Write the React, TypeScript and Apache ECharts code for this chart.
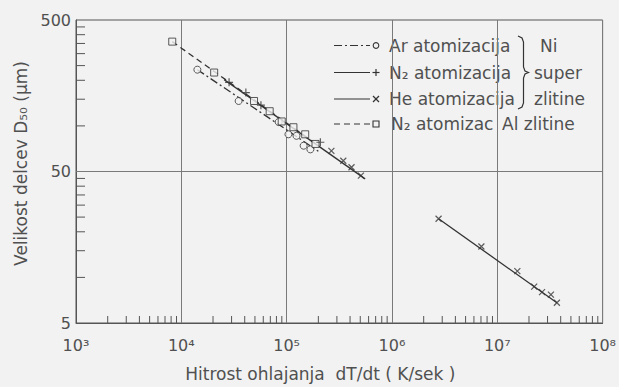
import React, { useEffect, useRef } from "react";
import * as echarts from "echarts";

// ---- data ----
const xTickLabels = ["10³", "10⁴", "10⁵", "10⁶", "10⁷", "10⁸"];
const yTickValues = [5, 50, 500];

// Ar atomizacija (Ni super zlitine) – circles
const arPoints = [
  [1.42e4, 235], [3.5e4, 146], [8.4e4, 106], [1.04e5, 88], [1.24e5, 86], [1.45e5, 74], [1.68e5, 70],
];
const arFit = [[1.42e4, 235], [2.0e5, 68]];

// N2 atomizacija (Ni super zlitine) – plus
const n2Points = [[2.84e4, 194], [4.1e4, 166], [5.7e4, 137], [2.09e5, 78]];
const n2Fit = [[2.55e4, 202], [5.56e5, 44.7]];

// He atomizacija (Ni super zlitine) – cross
const heLeftPoints = [[2.66e5, 68.4], [3.45e5, 58.9], [4.13e5, 53.3], [5.07e5, 47]];
const heRightPoints = [
  [2.77e6, 24.4], [7.06e6, 16], [1.55e7, 11], [2.24e7, 8.7], [2.66e7, 8.0], [3.23e7, 7.7], [3.68e7, 6.8],
];
const heFit = [[2.77e6, 24.4], [3.68e7, 6.8]];

// N2 atomizac. Al zlitine – squares
const alPoints = [
  [8.2e3, 360], [2.05e4, 225], [4.9e4, 146], [6.9e4, 125], [8.98e4, 107], [1.16e5, 98], [1.5e5, 88], [1.88e5, 76],
];
const alFit = [[8.2e3, 360], [1.9e5, 76]];

// axis decoration values
const xMinorTicks: number[] = [];
for (let k = 3; k <= 7; k++) for (let m = 2; m <= 9; m++) xMinorTicks.push(m * Math.pow(10, k));
const yMinorTicks = [10, 15, 20, 25, 30, 35, 40, 45, 100, 150, 200, 250, 300, 350, 400, 450];
const gridY = [50];

const BG = "#f2f2f2";
const INK = "#333";
const TEXT = "#505050";
const GRID = "#7a7a7a";
const FONT = "DejaVu Sans";

const PLUS = "path://M0,5L10,5M5,0L5,10";
const CROSS = "path://M0,0L10,10M10,0L0,10";

function legendGraphics() {
  const els: any[] = [];
  const x1 = 334, x2 = 370, mx = 376, tx = 389;
  const rows = [45.5, 72.5, 99, 124];
  const lineStyle = (dash: number[] | null) => ({ stroke: INK, lineWidth: 1.2, lineDash: dash || undefined });
  const txt = (x: number, y: number, text: string) => ({
    type: "text", x, y,
    style: { text, fill: TEXT, fontSize: 17, fontFamily: FONT, align: "left", verticalAlign: "middle" },
  });
  // row 1 Ar
  els.push({ type: "line", shape: { x1, y1: rows[0], x2, y2: rows[0] }, style: lineStyle([8, 3, 2, 3]) });
  els.push({ type: "circle", shape: { cx: mx, cy: rows[0], r: 2.8 }, style: { fill: "none", stroke: INK, lineWidth: 1.1 } });
  els.push(txt(tx, rows[0], "Ar atomizacija"));
  // row 2 N2
  els.push({ type: "line", shape: { x1, y1: rows[1], x2, y2: rows[1] }, style: lineStyle(null) });
  els.push({ type: "line", shape: { x1: mx - 3.5, y1: rows[1], x2: mx + 3.5, y2: rows[1] }, style: lineStyle(null) });
  els.push({ type: "line", shape: { x1: mx, y1: rows[1] - 3.5, x2: mx, y2: rows[1] + 3.5 }, style: lineStyle(null) });
  els.push(txt(tx, rows[1], "N₂ atomizacija"));
  // row 3 He
  els.push({ type: "line", shape: { x1, y1: rows[2], x2, y2: rows[2] }, style: lineStyle(null) });
  els.push({ type: "line", shape: { x1: mx - 3, y1: rows[2] - 3, x2: mx + 3, y2: rows[2] + 3 }, style: lineStyle(null) });
  els.push({ type: "line", shape: { x1: mx - 3, y1: rows[2] + 3, x2: mx + 3, y2: rows[2] - 3 }, style: lineStyle(null) });
  els.push(txt(tx, rows[2], "He atomizacija"));
  // brace
  els.push({
    type: "polyline",
    shape: { points: [[518, 36], [522, 38], [523.5, 42], [523.5, 67], [525, 71], [528.5, 72.5], [525, 74], [523.5, 78], [523.5, 103], [522, 107], [518, 109]] },
    style: { stroke: INK, lineWidth: 1.2, fill: "none" },
  });
  els.push(txt(540, rows[0], "Ni"));
  els.push(txt(534, rows[1], "super"));
  els.push(txt(534, rows[2], "zlitine"));
  // row 4 Al
  els.push({ type: "line", shape: { x1, y1: rows[3], x2: x2 + 1, y2: rows[3] }, style: lineStyle([6, 4]) });
  els.push({ type: "rect", shape: { x: mx - 3, y: rows[3] - 3, width: 6, height: 6 }, style: { fill: "none", stroke: INK, lineWidth: 1.1 } });
  els.push(txt(tx + 2, rows[3], "N₂ atomizac"));
  els.push(txt(502, rows[3], "Al zlitine"));
  return els;
}

export default function App() {
  const ref = useRef<HTMLDivElement>(null);
  useEffect(() => {
    const chart = echarts.init(ref.current!, null, { renderer: "svg" });
    const lineSeries = (data: number[][], type: any, z = 3) => ({
      type: "line", data, showSymbol: false, symbol: "none", silent: true, z,
      lineStyle: { color: INK, width: 1.3, type },
    });
    const scatter = (data: number[][], symbol: string, size: number, hollow = false) => ({
      type: "scatter", data, symbol, symbolSize: size, silent: true, z: 4,
      itemStyle: hollow
        ? { color: BG, borderColor: INK, borderWidth: 1 }
        : { color: "none", borderColor: INK, borderWidth: 1.2 },
    });
    chart.setOption({
      animation: false,
      backgroundColor: BG,
      textStyle: { fontFamily: FONT, color: TEXT },
      grid: { left: 76, right: 13, top: 20, bottom: 62, show: true, borderColor: "#555", borderWidth: 1, backgroundColor: "transparent" },
      xAxis: {
        type: "log", logBase: 10, min: 1e3, max: 1e8,
        axisLine: { show: true, lineStyle: { color: "#555", width: 1 } },
        axisTick: { show: false },
        splitLine: { show: true, lineStyle: { color: GRID, width: 1 } },
        axisLabel: {
          color: TEXT, fontSize: 16, fontFamily: FONT, margin: 14,
          formatter: (v: number) => xTickLabels[Math.round(Math.log10(v)) - 3] || "",
        },
        name: "Hitrost ohlajanja  dT/dt ( K/sek )",
        nameLocation: "middle", nameGap: 42,
        nameTextStyle: { color: TEXT, fontSize: 17, fontFamily: FONT, padding: [0, 38, 0, 0] },
      },
      yAxis: {
        type: "log", logBase: 10, min: 5, max: 500,
        axisLine: { show: true, lineStyle: { color: "#555", width: 1 } },
        axisTick: { show: false },
        splitLine: { show: false },
        axisLabel: {
          color: TEXT, fontSize: 16, fontFamily: FONT, margin: 5,
          customValues: yTickValues,
          formatter: (v: number) => String(Math.round(v)),
        },
        name: "Velikost delcev D₅₀ (μm)",
        nameLocation: "middle", nameGap: 47,
        nameTextStyle: { color: TEXT, fontSize: 17, fontFamily: FONT, padding: [0, 0, 0, 16] },
      },
      series: [
        {
          type: "custom", silent: true, z: 1, clip: false,
          data: xMinorTicks.map((v) => [v, 5]),
          renderItem: (_p: any, api: any) => {
            const c = api.coord([api.value(0), 5]);
            return { type: "line", shape: { x1: c[0], y1: c[1], x2: c[0], y2: c[1] - 7 }, style: { stroke: "#555", lineWidth: 1 } };
          },
        },
        {
          type: "custom", silent: true, z: 1, clip: false,
          data: yMinorTicks.map((v) => [1e3, v]),
          renderItem: (_p: any, api: any) => {
            const c = api.coord([1e3, api.value(1)]);
            return { type: "line", shape: { x1: c[0], y1: c[1], x2: c[0] + 9, y2: c[1] }, style: { stroke: "#555", lineWidth: 1 } };
          },
        },
        {
          type: "custom", silent: true, z: 1, clip: false,
          data: gridY.map((v) => [1e3, v]),
          renderItem: (_p: any, api: any) => {
            const a = api.coord([1e3, api.value(1)]);
            const b = api.coord([1e8, api.value(1)]);
            return { type: "line", shape: { x1: a[0], y1: a[1], x2: b[0], y2: b[1] }, style: { stroke: GRID, lineWidth: 1 } };
          },
        },
        lineSeries(arFit, [8, 3, 2, 3]),
        lineSeries(alFit, [6, 4]),
        lineSeries(n2Fit, "solid"),
        lineSeries(heFit, "solid"),
        scatter(arPoints, "circle", 7, true),
        scatter(alPoints, "rect", 7, true),
        scatter(n2Points, PLUS, 8),
        scatter(heLeftPoints, CROSS, 6),
        scatter(heRightPoints, CROSS, 6),
      ],
      graphic: legendGraphics(),
    });
    return () => chart.dispose();
  }, []);
  return <div ref={ref} style={{ position: "fixed", left: 0, top: 0, width: 619, height: 387 }} />;
}
